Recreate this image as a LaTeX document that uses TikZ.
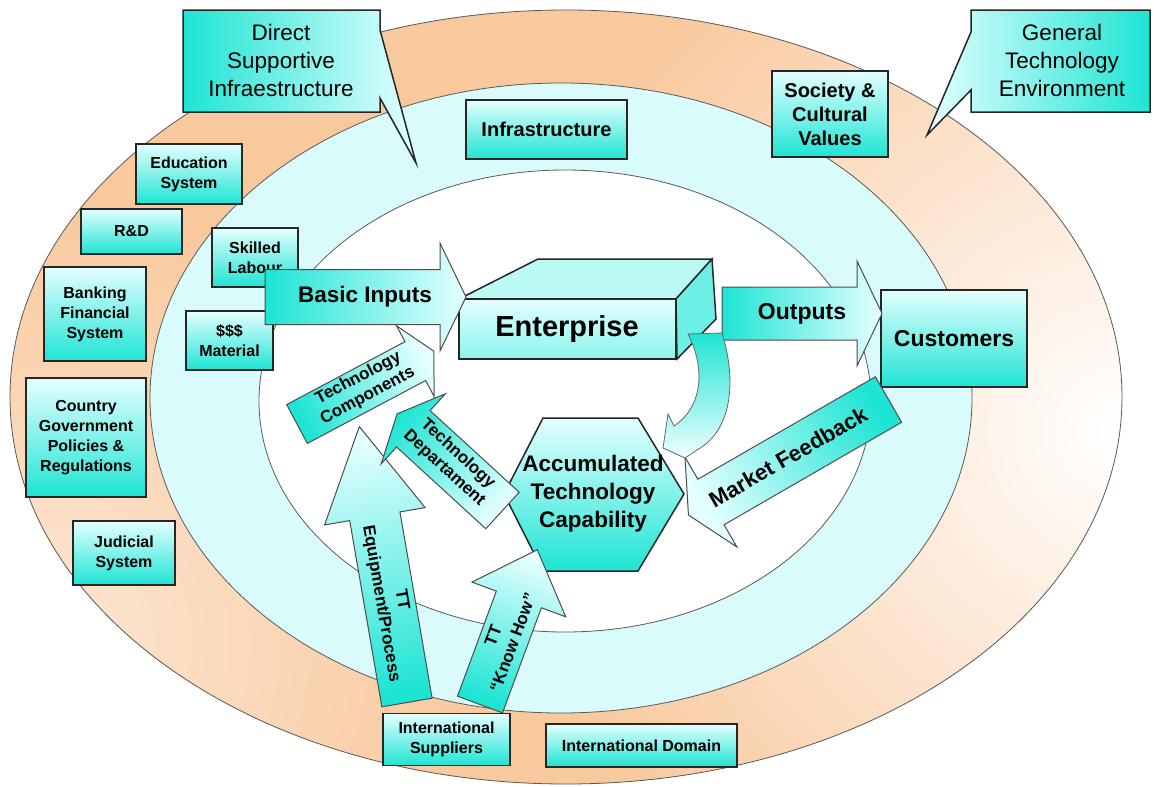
\documentclass[tikz,border=0pt]{standalone}
\usepackage{fontspec}
\setmainfont{Liberation Sans}

\definecolor{tq}{RGB}{30,228,212}
\definecolor{tqlight}{RGB}{228,255,255}
\definecolor{peach}{RGB}{249,201,158}
\definecolor{ringcyan}{RGB}{218,251,251}

\tikzset{
  box/.style={draw=black!85, line width=1.5pt, top color=tqlight, bottom color=tq,
    align=center, inner sep=0pt, font=\bfseries\fontsize{16}{20}\selectfont},
  solid/.style={draw=black!85, line width=1.5pt},
  callout/.style={draw=black!85, line width=1.5pt},
  calltext/.style={align=center, font=\fontsize{22.5}{28}\selectfont},
  blockarrow/.style={draw=black!70, line width=1pt, top color=tqlight, bottom color=tq},
  arrowtext/.style={align=center, font=\bfseries\fontsize{17}{20}\selectfont},
  bigtext/.style={align=center, font=\bfseries\fontsize{22.5}{28}\selectfont},
  ring/.style={draw=black!65, line width=0.8pt},
}

% block arrow: [style]{tail}{angle}{length}{body width}{head width}{head length}
\newcommand{\bigarrow}[7][]{%
  \pgfmathsetmacro\shadeang{#3-90}
  \shade[blockarrow,#1,shading angle=\shadeang,shift={#2},rotate=#3]
    (0,{-#5/2}) -- ({#4-#7},{-#5/2}) -- ({#4-#7},{-#6/2}) -- (#4,0)
    -- ({#4-#7},{#6/2}) -- ({#4-#7},{#5/2}) -- (0,{#5/2}) -- cycle;}

\begin{document}
\begin{tikzpicture}[x=1pt,y=-1pt]
\useasboundingbox (0,0) rectangle (1154,787);
\fill[white] (0,0) rectangle (1154,787);

% rings
\fill[peach] (566,397) ellipse [x radius=556pt, y radius=387pt];
\begin{scope}
  \clip (566,397) ellipse [x radius=556pt, y radius=387pt];
  \shade[inner color=white, outer color=peach] (1115,430) circle (600pt);
  \shade[inner color=peach!45!white, outer color=peach] (40,640) circle (440pt);
\end{scope}
\draw[ring] (566,397) ellipse [x radius=556pt, y radius=387pt];
\filldraw[ring, fill=ringcyan] (561,398) ellipse [x radius=411pt, y radius=315pt];
\filldraw[ring, fill=white] (565,401) ellipse [x radius=306pt, y radius=231pt];

% callouts
\shade[callout, left color=tq, right color=tqlight] (183,10) -- (380,10) -- (380,30)
  -- (416,163) -- (380,98) -- (380,112) -- (183,112) -- cycle;
\node[calltext] (direct) at (281,60) {Direct\\Supportive\\Infraestructure};
\shade[callout, left color=tqlight, right color=tq] (971,10) -- (1150,10) -- (1150,112)
  -- (971,112) -- (971,90) -- (927,135) -- (971,32) -- cycle;
\node[calltext] (general) at (1062,60) {General\\Technology\\Environment};

% boxes
\node[box, minimum width=161pt, minimum height=59pt, font=\bfseries\fontsize{20}{24}\selectfont] (infra) at (546.5,129.5) {Infrastructure};
\node[box, minimum width=116pt, minimum height=86pt, font=\bfseries\fontsize{20}{24}\selectfont] (society) at (830,114) {Society \&\\Cultural\\Values};
\node[box, minimum width=106pt, minimum height=60pt] (educ) at (189,174) {Education\\System};
\node[box, minimum width=101pt, minimum height=45pt] (rd) at (131.5,231.5) {R\&D};
\node[box, minimum width=86pt, minimum height=59pt] (skill) at (255,257.5) {Skilled\\Labour};
\node[box, minimum width=102pt, minimum height=94pt] (bank) at (95,314) {Banking\\Financial\\System};
\node[box, minimum width=87pt, minimum height=59pt] (money) at (229.5,340.5) {\$\$\$\\Material};
\node[box, minimum width=120pt, minimum height=119pt] (gov) at (86,437.5) {Country\\Government\\Policies \&\\Regulations};
\node[box, minimum width=102pt, minimum height=64pt] (judicial) at (124,553) {Judicial\\System};
\node[box, minimum width=127pt, minimum height=52pt] (suppliers) at (446.5,739.5) {International\\Suppliers};
\node[box, minimum width=191pt, minimum height=43pt] (domain) at (641.5,745.5) {International Domain};
\node[box, minimum width=146pt, minimum height=97pt, font=\bfseries\fontsize{23}{28}\selectfont] (customers) at (954,338.5) {Customers};

% enterprise block
\filldraw[solid, fill=tqlight!80!tq] (459,299) -- (538,259) -- (712,259) -- (676,299) -- cycle;
\filldraw[solid, fill=tq!60!tqlight] (676,299) -- (712,259) -- (716,319) -- (677,359) -- cycle;
\shade[solid, top color=tqlight, bottom color=tq!45!tqlight] (459,299) rectangle (676,359);
\node[font=\bfseries\fontsize{29}{34}\selectfont] (enterprise) at (567,329) {Enterprise};

% capability hexagon
\shade[solid, top color=tqlight, bottom color=tq] (543,418) -- (638,418) -- (684,494)
  -- (638,571) -- (543,571) -- (504,494) -- cycle;
\node[bigtext] (atc) at (593,494) {Accumulated\\Technology\\Capability};

% block arrows
\bigarrow{(407,702.5)}{99.8}{280}{51}{102}{91}
\node[arrowtext, font=\bfseries\fontsize{17}{21}\selectfont, rotate=-80.2] (ttequip) at (391,602) {TT\\Equipment/Process};
\bigarrow{(480,704.5)}{69.7}{165}{48}{100}{53}
\node[arrowtext, font=\bfseries\fontsize{17}{21}\selectfont, rotate=69.7] (knowhow) at (503,639) {TT\\“Know How”};
\bigarrow{(297,424)}{28}{155}{44}{80}{21}
\node[arrowtext, rotate=28] (techcomp) at (363,387) {Technology\\Components};
\bigarrow[top color=tq, bottom color=tqlight]{(502.5,510.5)}{137.5}{143}{49.5}{95}{22}
\node[arrowtext, rotate=-42.5] (techdept) at (451,461) {Technology\\Departament};
\bigarrow{(265,297)}{0}{201}{55}{108}{26}
\node[bigtext] (basic) at (365,297) {Basic Inputs};
\bigarrow{(722,313.5)}{0}{160}{53}{105}{25}
\node[bigtext, font=\bfseries\fontsize{23}{28}\selectfont] (outputs) at (802,314) {Outputs};
\bigarrow{(888.5,399.5)}{210}{231}{52.5}{104}{26}
\node[bigtext, font=\bfseries\fontsize{22}{28}\selectfont, rotate=30] (feedback) at (788,457) {Market Feedback};

% curved arrow enterprise -> capability
\shade[draw=black!60, line width=0.8pt, top color=tq, bottom color=tqlight!60!white]
  (688,334) .. controls (704,365) and (705,405) .. (674,426) -- (668,414) -- (663,448)
  -- (685,458) -- (697,450) .. controls (730,432) and (738,385) .. (722,333) -- cycle;
\end{tikzpicture}
\end{document}
